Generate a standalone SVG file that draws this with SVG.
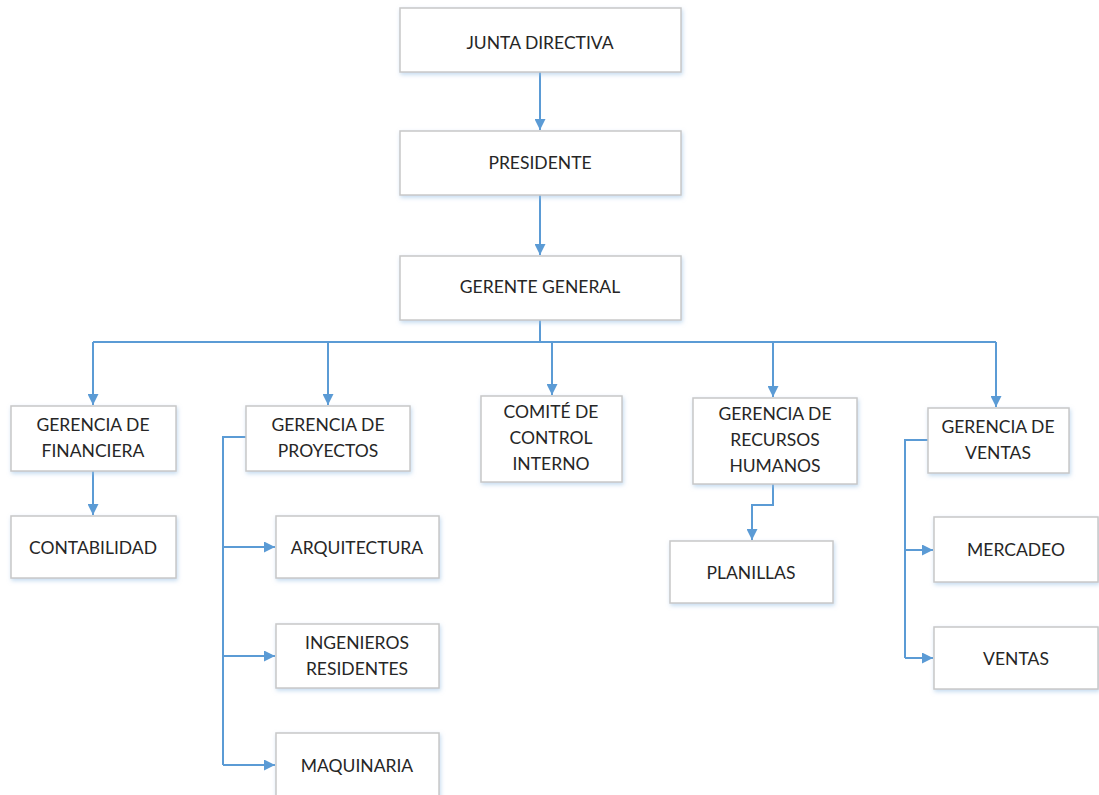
<svg xmlns="http://www.w3.org/2000/svg" width="1099" height="795" viewBox="0 0 1099 795">
  <defs>
    <marker id="arrow" viewBox="0 0 10 10" refX="10" refY="5" markerWidth="11" markerHeight="11" markerUnits="userSpaceOnUse" orient="auto">
      <path d="M0,0 L10,5 L0,10 Z" fill="#5B9BD5"/>
    </marker>
    <filter id="shadow" x="-10%" y="-10%" width="125%" height="130%">
      <feDropShadow dx="1" dy="2" stdDeviation="2" flood-color="#9DC3E6" flood-opacity="0.6"/>
    </filter>
  </defs>
  <style>
    .box { fill: #FFFFFF; stroke: #C8C8C8; stroke-width: 1.5; filter: url(#shadow); }
    .lbl { font-family: Lato, "Open Sans", "Liberation Sans", sans-serif; font-size: 17.5px; fill: #262626; text-anchor: middle; dominant-baseline: central; }
    .link { fill: none; stroke: #5B9BD5; stroke-width: 2; }
  </style>
  <rect width="1099" height="795" fill="#FFFFFF"/>

  <!-- connectors -->
  <g id="connectors">
    <path class="link" d="M540,72 V130" marker-end="url(#arrow)"/>
    <path class="link" d="M540,195 V255" marker-end="url(#arrow)"/>
    <path class="link" d="M540,320 V342 M93,342 H996"/>
    <path class="link" d="M93,342 V405" marker-end="url(#arrow)"/>
    <path class="link" d="M328,342 V405" marker-end="url(#arrow)"/>
    <path class="link" d="M552,342 V395" marker-end="url(#arrow)"/>
    <path class="link" d="M773,342 V397" marker-end="url(#arrow)"/>
    <path class="link" d="M996,342 V407" marker-end="url(#arrow)"/>
    <path class="link" d="M93,471 V515" marker-end="url(#arrow)"/>
    <path class="link" d="M246,437 H223 V765"/>
    <path class="link" d="M223,547 H275" marker-end="url(#arrow)"/>
    <path class="link" d="M223,656 H275" marker-end="url(#arrow)"/>
    <path class="link" d="M223,765 H275" marker-end="url(#arrow)"/>
    <path class="link" d="M773,484 V505 H752 V540" marker-end="url(#arrow)"/>
    <path class="link" d="M928,440 H905 V658"/>
    <path class="link" d="M905,550 H933" marker-end="url(#arrow)"/>
    <path class="link" d="M905,658 H933" marker-end="url(#arrow)"/>
  </g>

  <g id="junta">
    <rect class="box" x="400" y="8" width="281" height="64"/>
    <text class="lbl" x="540" y="42">JUNTA DIRECTIVA</text>
  </g>
  <g id="presidente">
    <rect class="box" x="400" y="131" width="281" height="64"/>
    <text class="lbl" x="540" y="162">PRESIDENTE</text>
  </g>
  <g id="gerente-general">
    <rect class="box" x="400" y="256" width="281" height="64"/>
    <text class="lbl" x="540" y="286">GERENTE GENERAL</text>
  </g>
  <g id="financiera">
    <rect class="box" x="11" y="406" width="165" height="65"/>
    <text class="lbl" x="93" y="424">GERENCIA DE</text>
    <text class="lbl" x="93" y="450">FINANCIERA</text>
  </g>
  <g id="contabilidad">
    <rect class="box" x="11" y="516" width="165" height="62"/>
    <text class="lbl" x="93" y="547">CONTABILIDAD</text>
  </g>
  <g id="proyectos">
    <rect class="box" x="246" y="406" width="164" height="65"/>
    <text class="lbl" x="328" y="424">GERENCIA DE</text>
    <text class="lbl" x="328" y="450">PROYECTOS</text>
  </g>
  <g id="arquitectura">
    <rect class="box" x="276" y="516" width="163" height="62"/>
    <text class="lbl" x="357" y="547">ARQUITECTURA</text>
  </g>
  <g id="ingenieros">
    <rect class="box" x="276" y="624" width="163" height="64"/>
    <text class="lbl" x="357" y="642">INGENIEROS</text>
    <text class="lbl" x="357" y="668">RESIDENTES</text>
  </g>
  <g id="maquinaria">
    <rect class="box" x="276" y="733" width="163" height="70"/>
    <text class="lbl" x="357" y="765">MAQUINARIA</text>
  </g>
  <g id="comite">
    <rect class="box" x="481" y="396" width="141" height="86"/>
    <text class="lbl" x="551" y="411">COMITÉ DE</text>
    <text class="lbl" x="551" y="437">CONTROL</text>
    <text class="lbl" x="551" y="463">INTERNO</text>
  </g>
  <g id="rrhh">
    <rect class="box" x="693" y="398" width="164" height="86"/>
    <text class="lbl" x="775" y="413">GERENCIA DE</text>
    <text class="lbl" x="775" y="439">RECURSOS</text>
    <text class="lbl" x="775" y="465">HUMANOS</text>
  </g>
  <g id="planillas">
    <rect class="box" x="670" y="541" width="163" height="62"/>
    <text class="lbl" x="751" y="572">PLANILLAS</text>
  </g>
  <g id="ventas-gerencia">
    <rect class="box" x="928" y="408" width="141" height="65"/>
    <text class="lbl" x="998" y="426">GERENCIA DE</text>
    <text class="lbl" x="998" y="452">VENTAS</text>
  </g>
  <g id="mercadeo">
    <rect class="box" x="934" y="517" width="164" height="65"/>
    <text class="lbl" x="1016" y="549">MERCADEO</text>
  </g>
  <g id="ventas">
    <rect class="box" x="934" y="627" width="164" height="62"/>
    <text class="lbl" x="1016" y="658">VENTAS</text>
  </g>
</svg>
